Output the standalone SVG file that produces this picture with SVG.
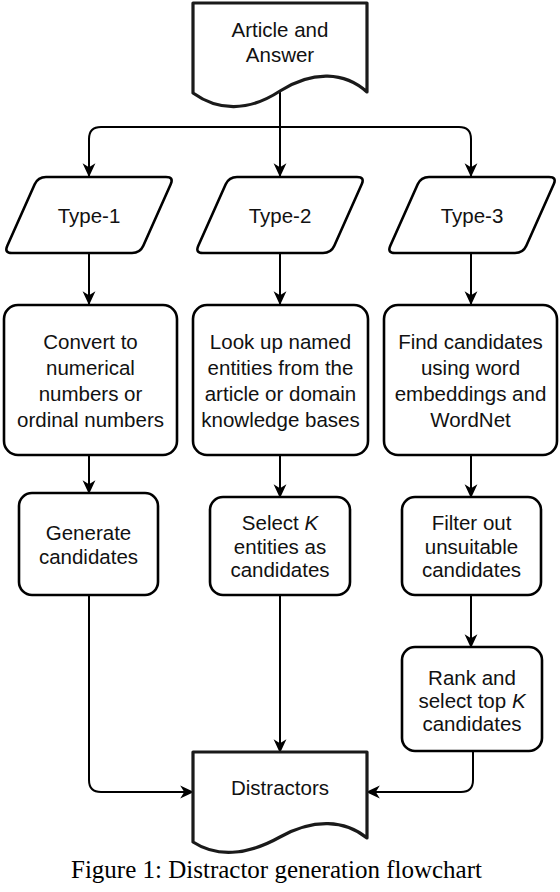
<svg xmlns="http://www.w3.org/2000/svg" width="560" height="892" viewBox="0 0 560 892">
<defs>
<style>
.doc{fill:#fff;stroke:#1a1a1a;stroke-width:3.2;stroke-linejoin:round}
.box{fill:#fff;stroke:#000;stroke-width:2.6}
.para{fill:#fff;stroke:#000;stroke-width:2.6;stroke-linejoin:round}
.t{font-family:"Liberation Sans",Arial,sans-serif;font-size:20.5px;fill:#111;text-anchor:middle}
.cap{font-family:"Liberation Serif","Times New Roman",serif;font-size:25px;fill:#000}
.edge{fill:none;stroke:#000;stroke-width:2;marker-end:url(#arr)}
.line{fill:none;stroke:#000;stroke-width:2}
</style>
<marker id="arr" markerUnits="userSpaceOnUse" markerWidth="14" markerHeight="14" viewBox="0 0 12 12" refX="11" refY="6" orient="auto">
<path d="M0,0.5 L12,6 L0,11.5 L3.5,6 Z" fill="#000"/>
</marker>
</defs>

<g id="connectors">
<path class="line" d="M280,92 V127"/>
<path class="edge" d="M280,127 V176"/>
<path class="edge" d="M280,127 H101 Q89,127 89,139 V176"/>
<path class="edge" d="M280,127 H459 Q471,127 471,139 V176"/>
<path class="edge" d="M89,253 V304"/>
<path class="edge" d="M280,253 V304"/>
<path class="edge" d="M471,253 V304"/>
<path class="edge" d="M89,455 V493"/>
<path class="edge" d="M280,455 V497"/>
<path class="edge" d="M471,455 V497"/>
<path class="edge" d="M471,595 V647"/>
<path class="edge" d="M280,595 V752"/>
<path class="edge" d="M89,595 V780 Q89,792 101,792 H193"/>
<path class="edge" d="M473,751 V780 Q473,792 461,792 H367"/>
</g>

<g id="article">
<path class="doc" d="M193,3 H367 V92 C345,72 313,70 280,91 C248,112 218,111 193,93 Z"/>
<text class="t" x="280" y="37">Article and</text>
<text class="t" x="280" y="62">Answer</text>
</g>

<g id="type1">
<path class="para" d="M46,177 H166 Q174,177 170.7,184.3 L143.3,245.7 Q140,253 132,253 H12 Q4,253 7.3,245.7 L34.7,184.3 Q38,177 46,177 Z"/>
<text class="t" x="89" y="223">Type-1</text>
</g>
<g id="type2">
<path class="para" transform="translate(191,0)" d="M46,177 H166 Q174,177 170.7,184.3 L143.3,245.7 Q140,253 132,253 H12 Q4,253 7.3,245.7 L34.7,184.3 Q38,177 46,177 Z"/>
<text class="t" x="280" y="223">Type-2</text>
</g>
<g id="type3">
<path class="para" transform="translate(383,0)" d="M46,177 H166 Q174,177 170.7,184.3 L143.3,245.7 Q140,253 132,253 H12 Q4,253 7.3,245.7 L34.7,184.3 Q38,177 46,177 Z"/>
<text class="t" x="472" y="223">Type-3</text>
</g>

<g id="convert">
<rect class="box" x="4" y="305" width="173" height="150" rx="14"/>
<text class="t" x="90.5" y="349">Convert to</text>
<text class="t" x="90.5" y="375">numerical</text>
<text class="t" x="90.5" y="401">numbers or</text>
<text class="t" x="90.5" y="427">ordinal numbers</text>
</g>
<g id="lookup">
<rect class="box" x="193" y="305" width="175" height="150" rx="14"/>
<text class="t" x="280.5" y="349">Look up named</text>
<text class="t" x="280.5" y="375">entities from the</text>
<text class="t" x="280.5" y="401">article or domain</text>
<text class="t" x="280.5" y="427">knowledge bases</text>
</g>
<g id="find">
<rect class="box" x="384" y="305" width="173" height="150" rx="14"/>
<text class="t" x="470.5" y="349">Find candidates</text>
<text class="t" x="470.5" y="375">using word</text>
<text class="t" x="470.5" y="401">embeddings and</text>
<text class="t" x="470.5" y="427">WordNet</text>
</g>

<g id="generate">
<rect class="box" x="19" y="493" width="139" height="102" rx="13"/>
<text class="t" x="88.5" y="540">Generate</text>
<text class="t" x="88.5" y="564">candidates</text>
</g>
<g id="select">
<rect class="box" x="210" y="497" width="140" height="98" rx="13"/>
<text class="t" x="280" y="530">Select <tspan font-style="italic">K</tspan></text>
<text class="t" x="280" y="554">entities as</text>
<text class="t" x="280" y="577">candidates</text>
</g>
<g id="filter">
<rect class="box" x="402" y="497" width="139" height="98" rx="13"/>
<text class="t" x="471.5" y="530">Filter out</text>
<text class="t" x="471.5" y="554">unsuitable</text>
<text class="t" x="471.5" y="577">candidates</text>
</g>
<g id="rank">
<rect class="box" x="402" y="647" width="140" height="104" rx="13"/>
<text class="t" x="472" y="685">Rank and</text>
<text class="t" x="472" y="708">select top <tspan font-style="italic">K</tspan></text>
<text class="t" x="472" y="731">candidates</text>
</g>

<g id="distractors">
<path class="doc" d="M193,752 H367 V838 C345,820 314,818 280,837 C246,856 216,857 193,842 Z"/>
<text class="t" x="280" y="795">Distractors</text>
</g>

<text class="cap" x="276.5" y="878" text-anchor="middle">Figure 1: Distractor generation flowchart</text>
</svg>
